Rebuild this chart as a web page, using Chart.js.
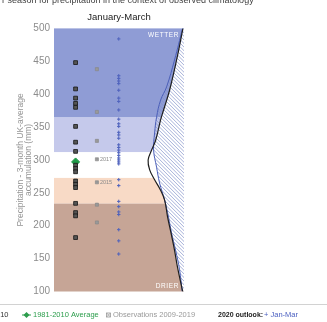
<!DOCTYPE html>
<html>
<head>
<meta charset="utf-8">
<script src="https://cdn.jsdelivr.net/npm/chart.js@4.4.1/dist/chart.umd.min.js"></script>
<style>
  html, body { margin: 0; padding: 0; background: #ffffff; }
  #wrap { width: 327px; height: 322px; position: relative; }
</style>
</head>
<body>
<div id="wrap"><canvas id="c" width="327" height="322"></canvas></div>
<script>
// Outlook category bands (mm), from the driest upward
const bandEdges = [100, 234, 273, 312, 365, 500];
const bandColors = ['#c6a596', '#f8dac6', '#ffffff', '#c5c9eb', '#8f9cd5'];

// Y axis tick labels (mm)
const yTicks = [100, 150, 200, 250, 300, 350, 400, 450, 500];

// Observed Jan-Mar totals 1981-2010 (mm)
const obs1981to2010 = [448, 408, 394, 386, 380, 351, 327, 313, 292, 287, 282, 268, 263, 258, 234, 220, 215, 182];
// 1981-2010 average (mm)
const avg1981to2010 = [297];
// Observed totals 2009-2019 (mm) and the years that are annotated
const obs2009to2019 = [438, 373, 329, 301, 266, 232, 205];
const obs2009to2019Tags = ['', '', '', '2017', '2015', '', ''];
// 2020 outlook ensemble members, Jan-Mar (mm)
const outlookJanMar = [484, 428, 424, 420, 416, 406, 394, 389, 376, 362, 355, 351, 342, 338,
  333, 323, 319, 315, 311, 307, 303, 300, 297, 294, 270, 261, 237, 229, 221, 217, 194, 177, 157];

// Forecast probability curve: levels (mm) and relative density
const forecastLevels = [500, 452, 406, 376, 361, 330, 315, 300, 285, 270, 254, 239, 213, 189, 163, 137, 100];
const forecastDensity = [0.08, 0.57, 1.11, 1.57, 1.80, 2.18, 2.49, 2.76, 2.64, 2.26, 1.80, 1.49, 1.26, 1.00, 0.73, 0.50, 0.10];
// Climatological probability curve: levels (mm) and relative density
const climateLevels = [500, 452, 411, 391, 365, 341, 315, 289, 265, 239, 213, 189, 163, 133, 100];
const climateDensity = [0.11, 0.73, 1.34, 1.80, 2.11, 2.26, 2.34, 2.11, 1.88, 1.49, 1.19, 0.96, 0.65, 0.34, 0.14];

// Horizontal layout of the panel (x axis units)
const X_MAX = 10;
const COL_OBS_OLD = 1.66;
const COL_OBS_NEW = 3.3;
const COL_OUTLOOK = 4.98;

const FONT = '"Liberation Sans", Arial, Helvetica, sans-serif';

const column = (vals, x) => vals.map(v => ({ x: x, y: v }));
const curve = (levels, dens) => levels.map((v, i) => ({ x: X_MAX - dens[i], y: v }));

// Trace a curve and close it along the right edge of the plot
function traceRightOf(chart, idx, ctx) {
  const meta = chart.getDatasetMeta(idx);
  const line = meta.dataset;
  const pts = meta.data;
  const a = chart.chartArea;
  if (typeof line.updateControlPoints === 'function') line.updateControlPoints(a, 'x');
  ctx.beginPath();
  if (typeof line.path === 'function') {
    line.path(ctx);
  } else {
    pts.forEach((p, i) => i ? ctx.lineTo(p.x, p.y) : ctx.moveTo(p.x, p.y));
  }
  ctx.lineTo(a.right + 1, pts[pts.length - 1].y);
  ctx.lineTo(a.right + 1, pts[0].y);
  ctx.closePath();
}

const backdrop = {
  id: 'backdrop',
  beforeDatasetsDraw(chart) {
    const { ctx, chartArea: a, scales: { y } } = chart;
    ctx.save();
    for (let i = 0; i < bandColors.length; i++) {
      const top = y.getPixelForValue(bandEdges[i + 1]);
      const bot = y.getPixelForValue(bandEdges[i]);
      ctx.fillStyle = bandColors[i];
      ctx.fillRect(a.left, top, a.right - a.left, bot - top);
    }
    // blank area beyond the forecast curve
    ctx.save();
    ctx.beginPath();
    ctx.rect(a.left, a.top, a.right - a.left, a.bottom - a.top);
    ctx.clip();
    traceRightOf(chart, 0, ctx);
    ctx.fillStyle = '#ffffff';
    ctx.fill();
    ctx.restore();
    // hatching beyond the climatological curve
    ctx.save();
    ctx.beginPath();
    ctx.rect(a.left, a.top, a.right - a.left, a.bottom - a.top);
    ctx.clip();
    traceRightOf(chart, 1, ctx);
    ctx.clip();
    ctx.strokeStyle = '#7f8fc8';
    ctx.lineWidth = 0.7;
    ctx.beginPath();
    const h = a.bottom - a.top;
    for (let k = a.left - h; k < a.right + 4; k += 3.6) {
      ctx.moveTo(k, a.top);
      ctx.lineTo(k + h, a.bottom);
    }
    ctx.stroke();
    ctx.restore();

    // category labels
    ctx.fillStyle = '#ffffff';
    ctx.font = '6.5px ' + FONT;
    ctx.textAlign = 'right';
    ctx.textBaseline = 'middle';
    if ('letterSpacing' in ctx) ctx.letterSpacing = '0.6px';
    ctx.fillText('WETTER', a.right - 5, a.top + 7);
    ctx.fillText('DRIER', a.right - 5, a.bottom - 5);
    ctx.restore();
  },
  afterDatasetsDraw(chart) {
    const { ctx } = chart;
    const meta = chart.getDatasetMeta(4);
    ctx.save();
    ctx.fillStyle = '#8a8a8a';
    ctx.font = '5.5px ' + FONT;
    ctx.textAlign = 'left';
    ctx.textBaseline = 'middle';
    meta.data.forEach((p, i) => {
      if (obs2009to2019Tags[i]) ctx.fillText(obs2009to2019Tags[i], p.x + 3, p.y);
    });
    ctx.restore();
  },
  afterDraw(chart) {
    const { ctx, width } = chart;
    ctx.save();
    // heading of the page, running off the top
    ctx.fillStyle = '#444';
    ctx.font = '9px ' + FONT;
    ctx.textAlign = 'left';
    ctx.textBaseline = 'alphabetic';
    ctx.fillText('r season for precipitation in the context of observed climatology', 2, 2.5);

    // separator above the key
    ctx.strokeStyle = '#d2d2d2';
    ctx.lineWidth = 1;
    ctx.beginPath();
    ctx.moveTo(0, 304.5);
    ctx.lineTo(width, 304.5);
    ctx.stroke();

    const ly = 315;
    ctx.font = '7.5px ' + FONT;
    ctx.textBaseline = 'middle';

    ctx.fillStyle = '#333';
    ctx.textAlign = 'right';
    ctx.fillText('Observations 1981-2010', 8.5, ly);

    ctx.textAlign = 'left';
    ctx.strokeStyle = '#2c9d4c';
    ctx.fillStyle = '#2c9d4c';
    ctx.beginPath();
    ctx.moveTo(22, ly); ctx.lineTo(31, ly); ctx.stroke();
    ctx.beginPath();
    ctx.moveTo(26.5, ly - 3); ctx.lineTo(29.5, ly); ctx.lineTo(26.5, ly + 3); ctx.lineTo(23.5, ly);
    ctx.closePath(); ctx.fill();
    ctx.fillText('1981-2010 Average', 33, ly);

    ctx.strokeStyle = '#999';
    ctx.fillStyle = '#999';
    ctx.lineWidth = 0.8;
    ctx.strokeRect(106.5, ly - 2, 4, 4);
    ctx.beginPath();
    ctx.moveTo(106.5, ly - 2); ctx.lineTo(110.5, ly + 2);
    ctx.moveTo(110.5, ly - 2); ctx.lineTo(106.5, ly + 2);
    ctx.stroke();
    ctx.fillText('Observations 2009-2019', 113, ly);

    ctx.fillStyle = '#222';
    ctx.font = 'bold 7px ' + FONT;
    ctx.fillText('2020 outlook:', 218, ly);

    ctx.fillStyle = '#4a5fc0';
    ctx.font = '7.5px ' + FONT;
    ctx.fillText('+ Jan-Mar', 264, ly);
    ctx.restore();
  }
};

new Chart(document.getElementById('c'), {
  type: 'scatter',
  data: {
    datasets: [
      {
        label: 'Forecast',
        data: curve(forecastLevels, forecastDensity),
        showLine: true, tension: 0.4, pointRadius: 0,
        borderColor: '#1e1e1e', borderWidth: 1.2
      },
      {
        label: 'Climatology',
        data: curve(climateLevels, climateDensity),
        showLine: true, tension: 0.4, pointRadius: 0,
        borderColor: '#4b5fb8', borderWidth: 1
      },
      {
        label: 'Observations 1981-2010',
        data: column(obs1981to2010, COL_OBS_OLD),
        pointStyle: 'rect', pointRadius: 2.7,
        backgroundColor: '#555555', borderColor: '#151515', borderWidth: 0.8
      },
      {
        label: '1981-2010 Average',
        data: column(avg1981to2010, COL_OBS_OLD),
        pointStyle: 'rectRot', pointRadius: 4,
        backgroundColor: '#1f9a48', borderColor: '#1f9a48', borderWidth: 1
      },
      {
        label: 'Observations 2009-2019',
        data: column(obs2009to2019, COL_OBS_NEW),
        pointStyle: 'rect', pointRadius: 2.2,
        backgroundColor: '#9a9a9a', borderColor: '#858585', borderWidth: 0.6
      },
      {
        label: 'Jan-Mar',
        data: column(outlookJanMar, COL_OUTLOOK),
        pointStyle: 'cross', pointRadius: 1.7,
        borderColor: '#4f62bd', borderWidth: 1
      }
    ]
  },
  options: {
    responsive: false,
    animation: false,
    devicePixelRatio: 1,
    layout: { padding: { left: 12, right: 143, top: 12, bottom: 30.5 } },
    plugins: {
      legend: { display: false },
      tooltip: { enabled: false },
      title: {
        display: true,
        fullSize: false,
        text: 'January-March',
        color: '#222',
        font: { family: FONT, size: 9.5, weight: 'normal' },
        padding: { top: 0, bottom: 5 }
      }
    },
    scales: {
      x: { type: 'linear', min: 0, max: X_MAX, display: false },
      y: {
        type: 'linear', position: 'left', min: 100, max: 500,
        afterBuildTicks: (s) => { s.ticks = yTicks.map(v => ({ value: v })); },
        afterFit: (s) => { s.width = 42; },
        grid: { display: false, drawTicks: false },
        border: { display: false },
        ticks: { color: '#8c8c8c', padding: 4, font: { family: FONT, size: 10 } },
        title: {
          display: true,
          text: ['Precipitation - 3-month UK-average', 'accumulation (mm)'],
          color: '#959595',
          font: { family: FONT, size: 8.5, lineHeight: 0.9 },
          padding: { top: 5, bottom: 0 }
        }
      }
    }
  },
  plugins: [backdrop]
});
</script>
</body>
</html>
